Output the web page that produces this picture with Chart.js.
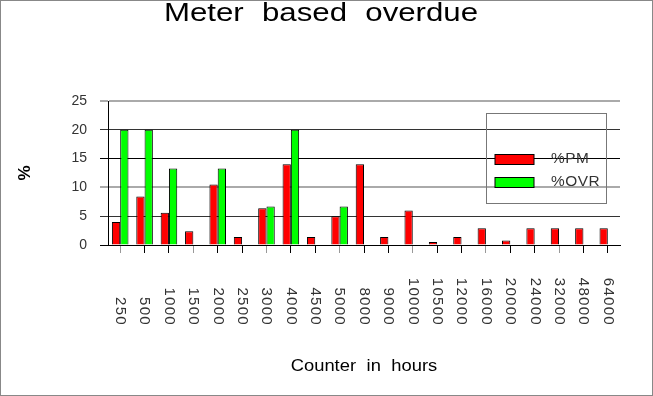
<!DOCTYPE html>
<html>
<head>
<meta charset="utf-8">
<script src="https://cdn.jsdelivr.net/npm/chart.js@4/dist/chart.umd.min.js"></script>
<style>
  html, body { margin: 0; padding: 0; background: #fff; }
  #wrap { width: 653px; height: 396px; }
</style>
</head>
<body>
<div id="wrap"><canvas id="chart" width="653" height="396"></canvas></div>
<script>
// data
const chartTitle = 'Meter based overdue';
const xTitle = 'Counter in hours';
const yTitle = '%';
const hours = ['250', '500', '1000', '1500', '2000', '2500', '3000', '4000', '4500', '5000',
  '8000', '9000', '10000', '10500', '12000', '16000', '20000', '24000', '32000', '48000', '64000'];
const pmPct = [4.0, 8.4, 5.6, 2.4, 10.5, 1.4, 6.4, 14.0, 1.4, 5.0,
  14.0, 1.4, 6.0, 0.5, 1.4, 2.9, 0.8, 2.9, 2.9, 2.9, 2.9];
const ovrPct = [20, 20, 13.3, null, 13.3, null, 6.7, 20, null, 6.7,
  null, null, null, null, null, null, null, null, null, null, null];
const yTicks = [0, 5, 10, 15, 20, 25];

const font = 'Liberation Sans, Arial, sans-serif';

// grid line look per y value
const gridColor = v => ({0: '#000', 5: '#333', 10: '#aaa', 15: '#000', 20: '#333', 25: '#aaa'})[v] || '#333';
const gridWidth = v => (v === 10 || v === 25) ? 2 : 1;

// stretched text helper (the original lettering is wide)
function wideText(ctx, text, x, y, size, sx, opts) {
  opts = opts || {};
  ctx.save();
  ctx.font = (opts.bold ? 'bold ' : '') + size + 'px ' + font;
  ctx.fillStyle = opts.color || '#000';
  ctx.textAlign = opts.align || 'center';
  ctx.textBaseline = 'middle';
  ctx.wordSpacing = (opts.wordSpacing || 0) + 'px';
  ctx.letterSpacing = (opts.letterSpacing || 0) + 'px';
  ctx.translate(x, y);
  if (opts.rotate) ctx.rotate(opts.rotate);
  ctx.scale(sx, 1);
  ctx.fillText(text, 0, 0);
  ctx.restore();
}

const decor = {
  id: 'decor',
  afterDraw(chart) {
    const ctx = chart.ctx;
    const xs = chart.scales.x;
    const area = chart.chartArea;

    // title
    wideText(ctx, chartTitle, 321, 14, 26, 1.2, {wordSpacing: 8});

    // x tick labels, reading downwards, ends lined up
    hours.forEach((h, i) => {
      wideText(ctx, h, xs.getPixelForTick(i), 326, 15, 1, {
        rotate: Math.PI / 2, align: 'right', letterSpacing: 1.3, color: '#333'
      });
    });

    // x axis title
    wideText(ctx, xTitle, (area.left + area.right) / 2, 366, 17, 1.08, {wordSpacing: 5});

    // legend box inside the plot
    ctx.save();
    ctx.strokeStyle = '#777';
    ctx.lineWidth = 1;
    ctx.strokeRect(486.5, 113.5, 120, 90);
    chart.data.datasets.forEach((ds, i) => {
      const y = 154.5 + i * 23;
      ctx.fillStyle = ds.backgroundColor;
      ctx.fillRect(495, y, 39, 10);
      ctx.strokeStyle = '#000';
      ctx.strokeRect(495, y, 39, 10);
      wideText(ctx, ds.label, 551, y + 5, 14, 1.1, {align: 'left', color: '#333', letterSpacing: 0.5});
    });
    ctx.restore();

    // outer frame
    ctx.save();
    ctx.strokeStyle = '#888';
    ctx.lineWidth = 1;
    ctx.strokeRect(0.5, 0.5, 652, 395);
    ctx.restore();
  }
};

new Chart(document.getElementById('chart'), {
  type: 'bar',
  data: {
    labels: hours,
    datasets: [
      {label: '%PM', data: pmPct, backgroundColor: '#ff0000', borderColor: '#000', borderWidth: 1},
      {label: '%OVR', data: ovrPct, backgroundColor: '#00ff00', borderColor: '#000', borderWidth: 1}
    ]
  },
  options: {
    responsive: false,
    animation: false,
    layout: {padding: {top: 101, right: 33, bottom: 12, left: 10}},
    datasets: {bar: {categoryPercentage: 0.68, barPercentage: 1.0}},
    plugins: {
      legend: {display: false},
      title: {display: false},
      tooltip: {enabled: false}
    },
    scales: {
      x: {
        grid: {
          offset: false,
          drawOnChartArea: false,
          tickLength: 8,
          color: ctx => (ctx.index % 3 === 0 ? '#999' : '#000')
        },
        border: {color: '#000'},
        ticks: {display: false},
        afterFit: s => { s.height = 396 - 12 - 245; }
      },
      y: {
        min: 0,
        max: 25,
        afterBuildTicks: s => { s.ticks = yTicks.map(v => ({value: v})); },
        grid: {
          tickLength: 8,
          color: ctx => gridColor(ctx.tick.value),
          lineWidth: ctx => gridWidth(ctx.tick.value)
        },
        border: {color: '#000'},
        ticks: {color: '#333', padding: 13, font: {family: font, size: 14}},
        title: {
          display: true, text: yTitle, color: '#000',
          font: {family: font, size: 17, weight: 'bold'}, padding: {top: 5, bottom: 0}
        },
        afterFit: s => { s.width = 108 - 10; }
      }
    }
  },
  plugins: [decor]
});
</script>
</body>
</html>
